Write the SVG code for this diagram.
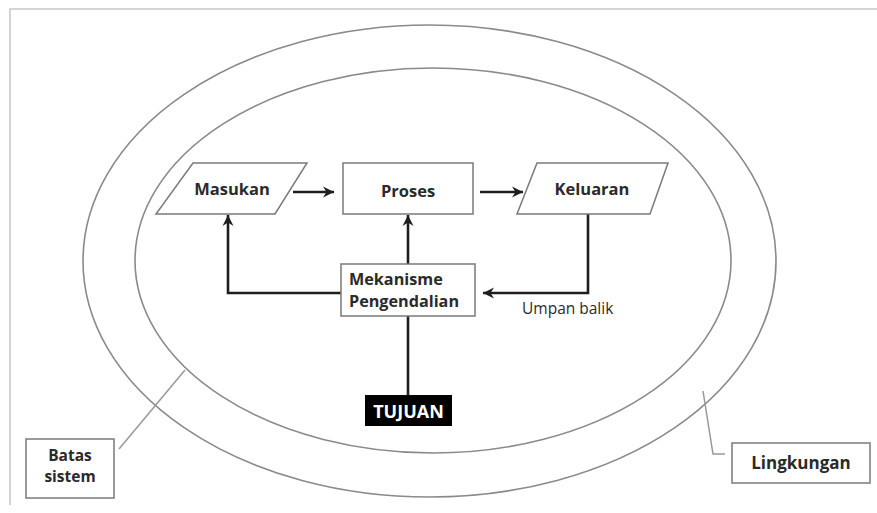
<svg xmlns="http://www.w3.org/2000/svg" width="877" height="513" viewBox="0 0 877 513">
<style>
.t{font-family:"Open Sans","Noto Sans","Liberation Sans",sans-serif;font-weight:bold;fill:#2a2a2a}
.box{fill:#fff;stroke:#7a7a7a;stroke-width:1.5}
.ell{fill:none;stroke:#8a8a8a;stroke-width:1.6}
.con{fill:none;stroke:#1e1e1e;stroke-width:2.6}
.lead{fill:none;stroke:#999;stroke-width:1.5}
</style>
<defs>
<marker id="ah" markerWidth="12" markerHeight="12" refX="11" refY="6" orient="auto" markerUnits="userSpaceOnUse">
<path d="M0,0.5 L11,6 L0,11.5 L3.5,6 Z" fill="#1e1e1e"/>
</marker>
</defs>
<rect width="877" height="513" fill="#fff"/>
<path d="M10,505 V9 H877" fill="none" stroke="#c8c8c8" stroke-width="1.5"/>
<g id="ellipses">
<ellipse class="ell" cx="429.5" cy="261" rx="346.5" ry="236"/>
<ellipse class="ell" cx="433" cy="260.5" rx="298" ry="192.5"/>
</g>
<g id="connectors">
<line class="con" x1="293" y1="192" x2="334" y2="192" marker-end="url(#ah)"/>
<line class="con" x1="480" y1="192" x2="523" y2="192" marker-end="url(#ah)"/>
<line class="con" x1="408" y1="264" x2="408" y2="215" marker-end="url(#ah)"/>
<polyline class="con" points="341,293 228,293 228,215" marker-end="url(#ah)"/>
<polyline class="con" points="588,214 588,293 483,293" marker-end="url(#ah)"/>
<line class="con" x1="408" y1="316" x2="408" y2="395"/>
<line class="lead" x1="119" y1="449" x2="185" y2="370"/>
<polyline class="lead" points="703,391 713,454 725,454"/>
</g>
<g id="masukan">
<polygon class="box" points="193,163 307,163 275,214 156,214"/>
<text class="t" x="232" y="195" font-size="16.5" text-anchor="middle">Masukan</text>
</g>
<g id="proses">
<rect class="box" x="343" y="163" width="130" height="51"/>
<text class="t" x="408" y="197" font-size="16.5" text-anchor="middle">Proses</text>
</g>
<g id="keluaran">
<polygon class="box" points="537,163 668,163 650,214 517,214"/>
<text class="t" x="592" y="195" font-size="16.5" text-anchor="middle">Keluaran</text>
</g>
<g id="mekanisme">
<rect class="box" x="341" y="264" width="134" height="52"/>
<text class="t" x="349" y="284.5" font-size="16.2">Mekanisme</text>
<text class="t" x="349" y="306.5" font-size="16.2">Pengendalian</text>
</g>
<g id="umpan-balik">
<text class="t" x="522" y="314" font-size="15.5" style="font-weight:500">Umpan balik</text>
</g>
<g id="tujuan">
<rect x="365" y="395" width="87" height="31" fill="#000"/>
<text class="t" x="408.5" y="418" font-size="18" text-anchor="middle" style="fill:#fff">TUJUAN</text>
</g>
<g id="batas-sistem">
<rect class="box" x="26" y="439" width="88" height="59"/>
<text class="t" x="70" y="461" font-size="15.5" text-anchor="middle">Batas</text>
<text class="t" x="70" y="482" font-size="15.5" text-anchor="middle">sistem</text>
</g>
<g id="lingkungan">
<rect class="box" x="732" y="443" width="138" height="40"/>
<text class="t" x="801" y="469" font-size="17" text-anchor="middle">Lingkungan</text>
</g>
</svg>
